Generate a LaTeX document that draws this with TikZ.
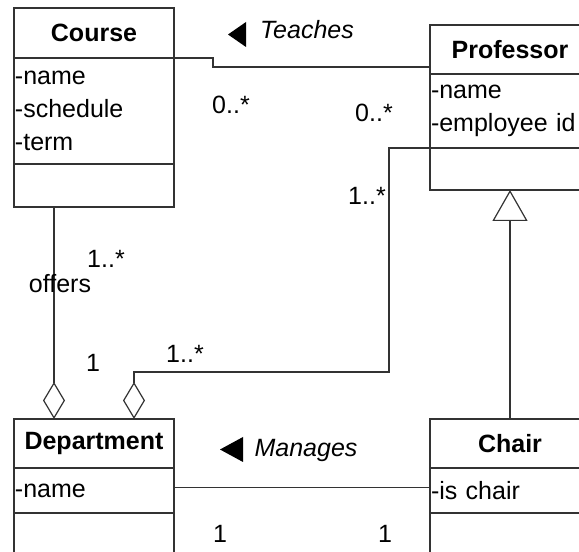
\documentclass[tikz,border=0pt]{standalone}
\usepackage{fontspec}
\setmainfont{Liberation Sans}
\usetikzlibrary{positioning,arrows.meta}

\begin{document}
\begin{tikzpicture}[x=1pt, y=1pt,
    every node/.style={font=\fontsize{25}{33}\selectfont, inner sep=0pt},
    box/.style={draw=black!80, line width=1.2pt, outer sep=0pt, minimum width=160pt},
    head/.style={box, font=\fontsize{25}{30}\selectfont\bfseries},
    attrs/.style={box, align=left, text width=158pt, inner xsep=1pt},
    line/.style={draw=black!80, line width=1.2pt},
    aggr/.style={line, -{Diamond[open,length=37pt,width=22pt]}},
    gen/.style={line, -{Triangle[open,length=31pt,width=35pt]}},
    role/.style={font=\fontsize{25}{30}\selectfont\itshape}]
  \useasboundingbox (0,0) rectangle (579,552);

  % classes
  \node[head, minimum height=50pt] (course) at (94,519) {Course};
  \node[attrs, minimum height=106pt, below=0pt of course] (course-a) {-name\\-schedule\\-term};
  \node[box, minimum height=43pt, below=0pt of course-a] (course-o) {};

  \node[head, minimum height=49pt] (prof) at (510,502.5) {Professor};
  \node[attrs, minimum height=74pt, below=0pt of prof] (prof-a) {-name\\-employee id};
  \node[box, minimum height=42pt, below=0pt of prof-a] (prof-o) {};

  \node[head, minimum height=49pt] (dept) at (94,108.5) {Department};
  \node[attrs, minimum height=45pt, below=0pt of dept] (dept-a) {-name};
  \node[box, minimum height=50pt, below=0pt of dept-a] (dept-o) {};

  \node[head, minimum height=49pt] (chair) at (510,108.5) {Chair};
  \node[attrs, minimum height=45pt, below=0pt of chair] (chair-a) {-is chair};
  \node[box, minimum height=50pt, below=0pt of chair-a] (chair-o) {};

  % associations
  \draw[line] (course.south east) -- ++(39,0) |- ([yshift=7pt]prof.south west);
  \draw[aggr] ([xshift=-40pt]course-o.south) -- ([xshift=-40pt]dept.north);
  \draw[aggr] (prof-o.north west) -- ++(-41,0) |- ([shift={(40,47)}]dept.north) -- ([xshift=40pt]dept.north);
  \draw[gen] (chair.north) -- (prof-o.south);
  \draw[line] ([yshift=3pt]dept-a.east) -- ([yshift=3pt]chair-a.west);

  % labels
  \fill (246,530) -- (228,517.5) -- (246,505) -- cycle;
  \node[role] (teaches) at (307,522) {Teaches};
  \fill (243,115) -- (220,102.5) -- (243,90) -- cycle;
  \node[role] (manages) at (306,102) {Manages};
  \node (offers) at (60,268) {offers};
  \node (teach-c) at (231,447) {0..*};
  \node (teach-p) at (374,439) {0..*};
  \node (staff-p) at (367,356) {1..*};
  \node (staff-d) at (185,198) {1..*};
  \node (offers-c) at (106,293) {1..*};
  \node (offers-d) at (93,189) {1};
  \node (man-d) at (220,18) {1};
  \node (man-c) at (385,18) {1};
\end{tikzpicture}
\end{document}
